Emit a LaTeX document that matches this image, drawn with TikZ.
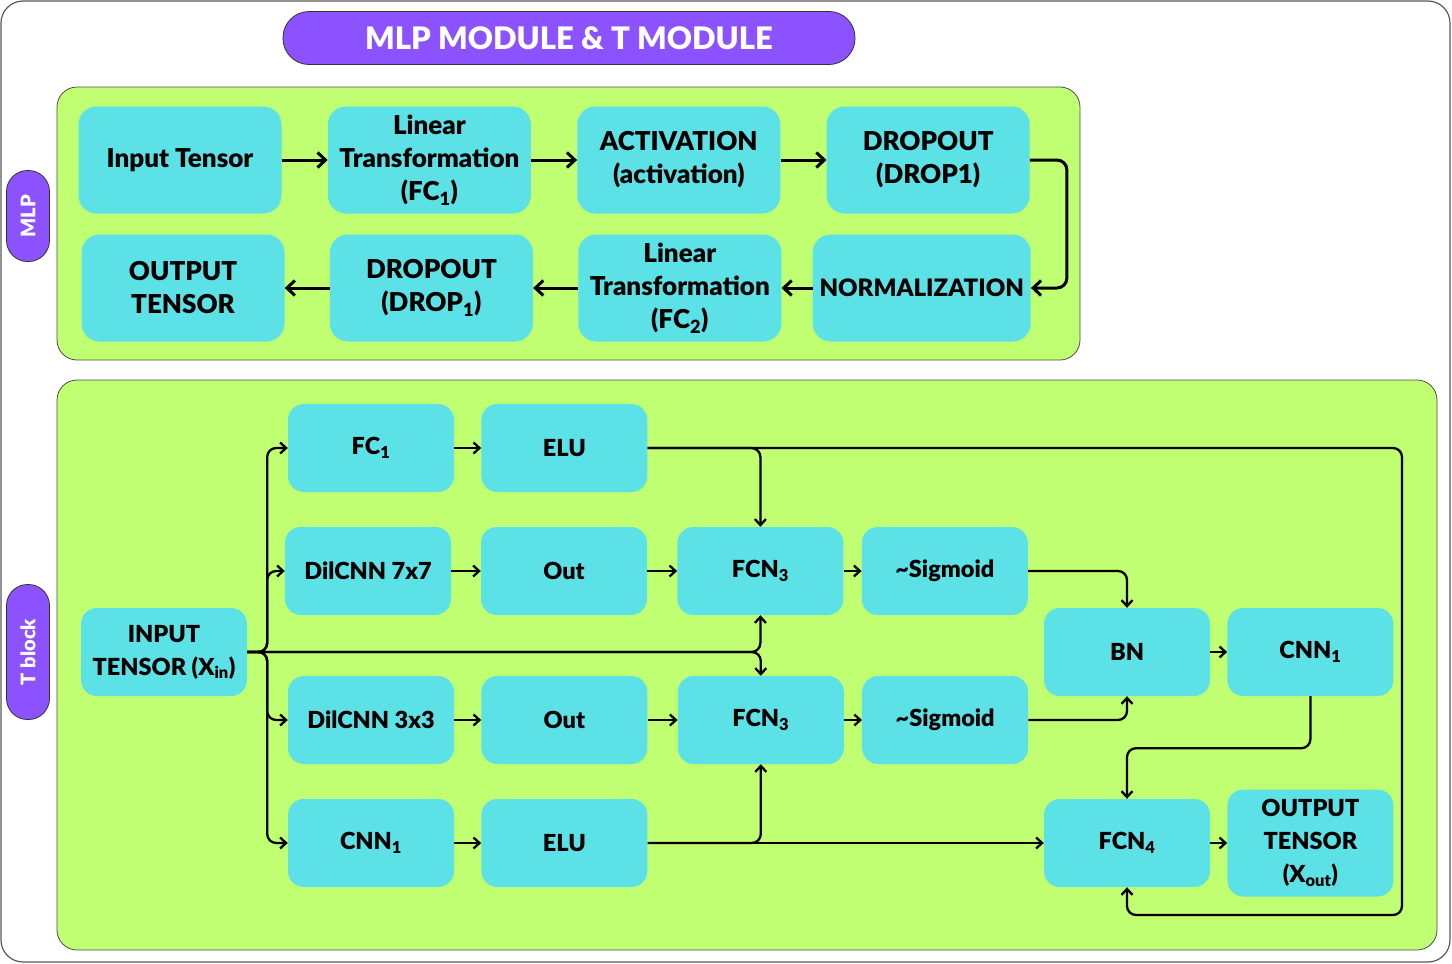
\documentclass[tikz,border=0pt]{standalone}
\usepackage{fontspec}
\setmainfont{Lato}[BoldFont={Lato Black}]
\usetikzlibrary{arrows.meta,positioning}
\definecolor{boxcyan}{HTML}{5CE1E6}
\definecolor{panelgreen}{HTML}{C1FF72}
\definecolor{tagpurple}{HTML}{8C52FF}

\begin{document}
\begin{tikzpicture}[
  x=1pt, y=-1pt,
  node distance=27pt and 46pt,
  every node/.style={align=center},
  mbox/.style={rectangle, rounded corners=18pt, fill=boxcyan,
               minimum width=203pt, minimum height=107pt,
               font=\fontsize{26}{33}\selectfont\bfseries},
  tbox/.style={rectangle, rounded corners=16pt, fill=boxcyan,
               minimum width=166pt, minimum height=88pt,
               font=\fontsize{23.5}{33}\selectfont\bfseries},
  panel/.style={draw=black!70, line width=0.8pt, fill=panelgreen, rounded corners=20pt},
  tag/.style={draw=black!80, line width=0.8pt, fill=tagpurple, rounded corners=21pt,
              text=white, rotate=90, minimum height=43pt,
              font=\fontsize{20}{24}\selectfont\bfseries},
  heading/.style={draw=black!80, line width=0.8pt, fill=tagpurple, rounded corners=26pt,
                  text=white, minimum width=572pt, minimum height=53pt,
                  font=\fontsize{31}{36}\selectfont\bfseries},
  marr/.style={-{Straight Barb[length=8pt,width=15pt]}, line width=3pt},
  tarr/.style={-{Straight Barb[length=6pt,width=11pt]}, line width=2.3pt},
  wire/.style={tarr, rounded corners=9pt}
]
  \useasboundingbox (0,0) rectangle (1452,964);
  \draw[draw=black!65, line width=1.2pt, rounded corners=22pt] (1,1) rectangle (1450,962);

  \node[heading] (ttl) at (569,38) {MLP MODULE \& T MODULE};

  % MLP module
  \draw[panel] (57,87) rectangle (1080,360);
  \node[tag, minimum width=91pt] (mlptag) at (28,216) {MLP};

  \node[mbox] (inp) at (180,160) {Input Tensor};
  \node[mbox, right=of inp] (fca) {Linear\\Transformation\\(FC\textsubscript{1})};
  \node[mbox, right=of fca] (act) {ACTIVATION\\(activation)};
  \node[mbox, right=of act] (dropa) {DROPOUT\\(DROP1)};

  \node[mbox] (outm) at (183,288) {OUTPUT\\TENSOR};
  \node[mbox, right=45pt of outm] (dropb) {DROPOUT\\(DROP\textsubscript{1})};
  \node[mbox, right=45pt of dropb] (fcb) {Linear\\Transformation\\(FC\textsubscript{2})};
  \node[mbox, minimum width=218pt, inner xsep=2pt, right=31pt of fcb,
        font=\fontsize{24}{33}\selectfont\bfseries] (norm) {NORMALIZATION};

  \draw[marr] (inp) -- (fca);
  \draw[marr] (fca) -- (act);
  \draw[marr] (act) -- (dropa);
  \draw[marr, rounded corners=10pt] (dropa.east) -- ++(37,0) |- (norm.east);
  \draw[marr] (norm) -- (fcb);
  \draw[marr] (fcb) -- (dropb);
  \draw[marr] (dropb) -- (outm);

  % T module
  \draw[panel] (57,380) rectangle (1437,950);
  \node[tag, minimum width=135pt] (ttag) at (28,652) {T block};

  \node[tbox] (tin) at (164,652) {INPUT\\TENSOR (X\textsubscript{in})};
  \node[tbox] (tfc) at (371,448) {FC\textsubscript{1}};
  \node[tbox, right=27pt of tfc] (elua) {ELU};
  \node[tbox] (dil7) at (368,571) {DilCNN 7x7};
  \node[tbox] (outa) at (564,571) {Out};
  \node[tbox, right=30pt of outa] (fcna) {FCN\textsubscript{3}};
  \node[tbox, right=18pt of fcna] (siga) {\textasciitilde Sigmoid};
  \node[tbox] (bn) at (1127,652) {BN};
  \node[tbox, right=17pt of bn] (cnnr) {CNN\textsubscript{1}};
  \node[tbox] (dil3) at (371,720) {DilCNN 3x3};
  \node[tbox, right=27pt of dil3] (outb) {Out};
  \node[tbox, right=30pt of outb] (fcnb) {FCN\textsubscript{3}};
  \node[tbox, right=18pt of fcnb] (sigb) {\textasciitilde Sigmoid};
  \node[tbox] (cnnb) at (371,843) {CNN\textsubscript{1}};
  \node[tbox, right=27pt of cnnb] (elub) {ELU};
  \node[tbox] (fcnd) at (1127,843) {FCN\textsubscript{4}};
  \node[tbox, right=17pt of fcnd, minimum height=107pt] (outx) {OUTPUT\\TENSOR\\(X\textsubscript{out})};

  \coordinate (loop) at (1402,915);

  \foreach \dst in {tfc,dil7,dil3,cnnb}
    \draw[wire] (tin.east) -- ++(20,0) |- (\dst.west);
  \draw[wire] (tin.east) -| (fcna.south);
  \draw[wire] (tin.east) -| (fcnb.north);

  \draw[tarr] (tfc) -- (elua);
  \draw[tarr] (dil7) -- (outa);
  \draw[tarr] (outa) -- (fcna);
  \draw[tarr] (fcna) -- (siga);
  \draw[tarr] (dil3) -- (outb);
  \draw[tarr] (outb) -- (fcnb);
  \draw[tarr] (fcnb) -- (sigb);
  \draw[tarr] (cnnb) -- (elub);
  \draw[tarr] (bn) -- (cnnr);
  \draw[tarr] (fcnd) -- (outx);
  \draw[tarr] (elub) -- (fcnd);

  \draw[wire] (elua.east) -| (fcna.north);
  \draw[wire] (elua.east) -| (loop) -| (fcnd.south);
  \draw[wire] (elub.east) -| (fcnb.south);
  \draw[wire] (siga.east) -| (bn.north);
  \draw[wire] (sigb.east) -| (bn.south);
  \draw[wire] (cnnr.south) -- ++(0,52) -| (fcnd.north);
\end{tikzpicture}
\end{document}
